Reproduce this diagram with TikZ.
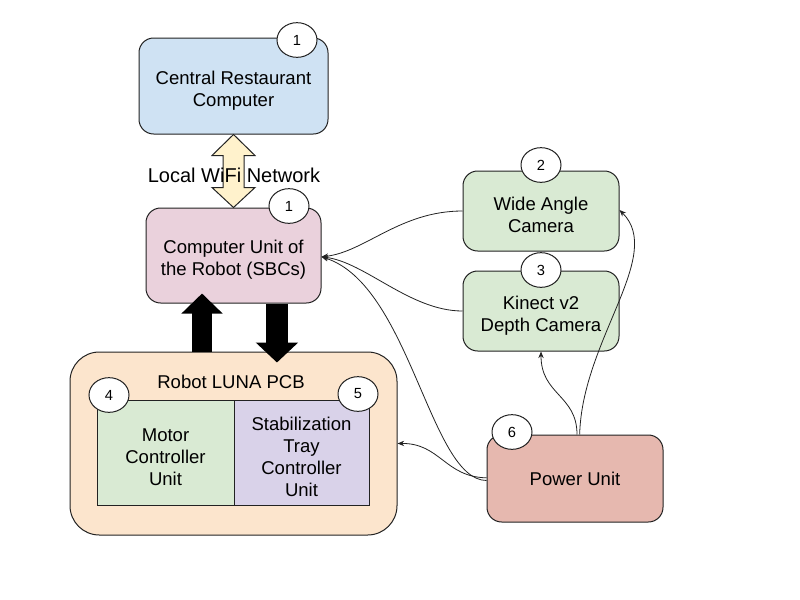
\documentclass[tikz,border=0pt]{standalone}
\usepackage{fontspec}
\setmainfont{Liberation Sans}
\usetikzlibrary{arrows.meta,shapes.geometric,calc}
\definecolor{cblue}{HTML}{CFE2F3}
\definecolor{cpink}{HTML}{EAD1DC}
\definecolor{cgreen}{HTML}{D9EAD3}
\definecolor{corange}{HTML}{FCE5CD}
\definecolor{cpurple}{HTML}{D9D2E9}
\definecolor{cred}{HTML}{E6B8AF}
\definecolor{cyellow}{HTML}{FFF2CC}
\definecolor{cline}{HTML}{222222}
\newcommand{\mytup}{\rule{0pt}{16.5pt}}
\begin{document}
\begin{tikzpicture}[x=0.75pt,y=-0.75pt,
  txt/.style={font=\fontsize{13.9}{16.5}\selectfont, align=center},
  box/.style={txt, draw=cline, line width=0.75pt, rounded corners=11pt, inner sep=0pt},
  sqbox/.style={txt, draw=cline, line width=0.75pt, inner sep=0pt},
  num/.style={ellipse, draw=cline, fill=white, line width=0.75pt, minimum width=30pt, minimum height=26pt, inner sep=0pt, font=\fontsize{11}{13}\selectfont},
  conn/.style={draw=cline, line width=0.6pt, -{Stealth[length=5pt,width=4pt]}},
  bigup/.style={line width=14.5pt, black, -{Triangle[length=15pt,width=30pt]}},
  bigdown/.style={line width=16.5pt, black, -{Triangle[length=15pt,width=31pt]}}
]
\useasboundingbox (0,0) rectangle (800,600);

% boxes
\node[box, fill=cblue, minimum width=141.75pt, minimum height=72pt] (crc) at (233.5,86) {\mytup Central Restaurant\\Computer};
\node[box, fill=cpink, minimum width=131.25pt, minimum height=71.25pt] (sbc) at (233.5,255.5) {\mytup Computer Unit of\\the Robot (SBCs)};
\node[box, fill=cgreen, minimum width=117pt, minimum height=60pt] (wac) at (541,211) {\mytup Wide Angle\\Camera};
\node[box, fill=cgreen, minimum width=117pt, minimum height=60pt] (kin) at (541,311) {\mytup Kinect v2\\Depth Camera};
\node[box, fill=corange, rounded corners=22pt, minimum width=245.25pt, minimum height=137.25pt] (pcb) at (233.5,443.5) {};
\node[txt] (pcbt) at (231,382) {Robot LUNA PCB};
\node[sqbox, fill=cgreen, minimum width=102.75pt, minimum height=78.75pt] (mcu) at (165.5,452.5) {\mytup Motor\\Controller\\Unit};
\node[sqbox, fill=cpurple, minimum width=101.25pt, minimum height=78.75pt] (stc) at (301.5,452.5) {\mytup Stabilization\\Tray\\Controller\\Unit};
\node[box, fill=cred, minimum width=132pt, minimum height=65.25pt] (pwr) at (575,478.5) {Power Unit};

% number badges
\node[num] (n1a) at (297,40) {1};
\node[num] (n1b) at (289,206) {1};
\node[num] (n2) at (541,165) {2};
\node[num] (n3) at (541,270) {3};
\node[num] (n4) at (109,395) {4};
\node[num] (n5) at (358,394) {5};
\node[num] (n6) at (512,432) {6};

% WiFi double arrow
\draw[draw=cline, line width=0.75pt, fill=cyellow]
  (crc.south) -- ($(crc.south)+(21.5,21)$) -- ($(crc.south)+(10.5,21)$)
  -- ($(sbc.north)+(10.5,-20)$) -- ($(sbc.north)+(21.5,-20)$) -- (sbc.north)
  -- ($(sbc.north)+(-21.5,-20)$) -- ($(sbc.north)+(-10.5,-20)$)
  -- ($(crc.south)+(-10.5,21)$) -- ($(crc.south)+(-21.5,21)$) -- cycle;
\node[txt, font=\fontsize{15}{18}\selectfont] (wifi) at (234,175) {Local WiFi Network};

% big black arrows between SBC and PCB
\draw[bigup] ([xshift=-23.6pt]pcb.north) -- ([xshift=-23.6pt,yshift=7.5pt]sbc.south);
\draw[bigdown] ([xshift=32.6pt]sbc.south) -- ([xshift=32.6pt,yshift=-8.25pt]pcb.north);

% thin connectors
\coordinate (sbcin) at ([yshift=-1pt]sbc.east);
\draw[conn] (wac.west) .. controls (400,211) and (365,252) .. (sbcin);
\draw[conn] (kin.west) .. controls (410,311) and (365,262) .. (sbcin);
\draw[conn] ([yshift=-1.5pt]pwr.west) .. controls (430,480) and (410,285) .. (sbcin);
\draw[conn] ([yshift=0.5pt]pwr.west) .. controls (445,477) and (440,443) .. (pcb.east);
\draw[conn] ([xshift=1.5pt]pwr.north) .. controls (577,395) and (541,395) .. (kin.south);
\draw[conn] ([xshift=3.5pt]pwr.north) .. controls (582,340) and (665,255) .. ([yshift=0.75pt]wac.east);
\end{tikzpicture}
\end{document}
